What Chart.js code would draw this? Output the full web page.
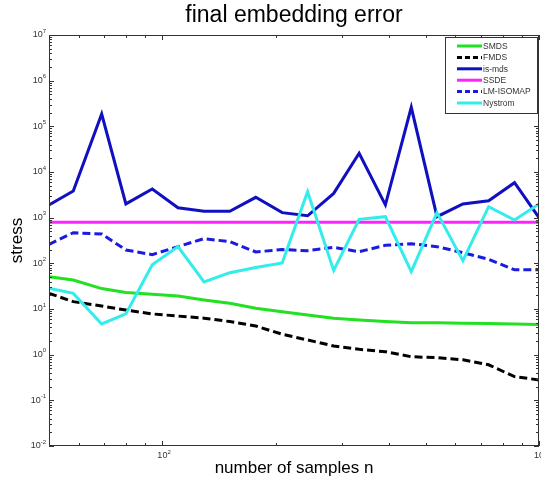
<!DOCTYPE html>
<html><head><meta charset="utf-8">
<script src="https://cdn.jsdelivr.net/npm/chart.js@4.4.0/dist/chart.umd.min.js"></script>
<style>html,body{margin:0;padding:0;background:#fff;}canvas{display:block;}</style>
</head><body>
<canvas id="c" width="541" height="483"></canvas>
<script>
const sampleSizes = [50, 58, 69, 80, 94, 110, 129, 151, 177, 208, 243, 285, 333, 391, 458, 536, 628, 735, 861, 1000];
const smds     = [51, 43, 28, 23, 21, 19.3, 15.8, 13.3, 10.4, 8.7, 7.4, 6.3, 5.75, 5.3, 5.0, 5.0, 4.9, 4.8, 4.7, 4.6];
const fmds     = [22, 14.5, 11.6, 9.5, 7.8, 7.0, 6.3, 5.3, 4.25, 2.8, 2.1, 1.55, 1.31, 1.16, 0.9, 0.86, 0.77, 0.6, 0.33, 0.28];
const isMds    = [1900, 3840, 186000, 2000, 4250, 1650, 1380, 1380, 2790, 1290, 1100, 3400, 25700, 1900, 261000, 1050, 2000, 2350, 5830, 1000];
const ssde     = [790, 790, 790, 790, 790, 790, 790, 790, 790, 790, 790, 790, 790, 790, 790, 790, 790, 790, 790, 790];
const lmIsomap = [261, 467, 440, 196, 155, 232, 347, 298, 178, 200, 189, 223, 180, 248, 269, 232, 171, 123, 72, 72];
const nystrom  = [28.4, 22, 4.7, 7.8, 93, 232, 39, 62.5, 81, 102, 3700, 70, 920, 1050, 66, 1290, 114, 1740, 890, 2000];
const seriesNames = ['SMDS', 'FMDS', 'is-mds', 'SSDE', 'LM-ISOMAP', 'Nystrom'];
const xRange = [50, 1000];
const yRange = [0.01, 1e7];
const titleText = 'final embedding error';
const xTitle = 'number of samples n';
const yTitle = 'stress';

const FONT = '"Liberation Sans", Arial, Helvetica, sans-serif';

function pts(ys){ return sampleSizes.map((x,i)=>({x:x, y:ys[i]})); }

const styles = [
  {color:'#22e022', dash:[]},
  {color:'#000000', dash:[8,4]},
  {color:'#1010c0', dash:[]},
  {color:'#ff22ff', dash:[]},
  {color:'#1a1ae0', dash:[8,4]},
  {color:'#33ecec', dash:[]}
];
const seriesData = [smds, fmds, isMds, ssde, lmIsomap, nystrom];

const datasets = seriesNames.map((name,i)=>({
  label: name,
  data: pts(seriesData[i]),
  borderColor: styles[i].color,
  backgroundColor: styles[i].color,
  borderDash: styles[i].dash,
  borderWidth: 3,
  pointRadius: 0,
  tension: 0,
  fill: false,
  order: 6 - i
}));

function decadeTicks(min, max){
  const out = [];
  const e0 = Math.floor(Math.log10(min)), e1 = Math.ceil(Math.log10(max));
  for (let e = e0; e <= e1; e++){
    for (let m = 1; m <= 9; m++){
      const v = m * Math.pow(10, e);
      if (v >= min*0.9999 && v <= max*1.0001) out.push({v:v, major: m === 1, e:e});
    }
  }
  return out;
}

const decor = {
  id: 'decor',
  beforeDraw(chart){
    const ctx = chart.ctx;
    ctx.save(); ctx.fillStyle = '#fff'; ctx.fillRect(0,0,chart.width,chart.height); ctx.restore();
  },
  afterDatasetsDraw(chart){
    const ctx = chart.ctx, a = chart.chartArea;
    const xs = chart.scales.x, ys = chart.scales.y;
    ctx.save();
    // box
    ctx.strokeStyle = '#333'; ctx.lineWidth = 1; ctx.setLineDash([]);
    ctx.strokeRect(Math.round(a.left)+0.5, Math.round(a.top)+0.5, Math.round(a.right-a.left)-1, Math.round(a.bottom-a.top)-1);
    // ticks
    ctx.beginPath();
    decadeTicks(xs.min, xs.max).forEach(t=>{
      const px = Math.round(xs.getPixelForValue(t.v))+0.5;
      const L = t.major ? 5 : 3;
      ctx.moveTo(px, a.bottom); ctx.lineTo(px, a.bottom - L);
      ctx.moveTo(px, a.top); ctx.lineTo(px, a.top + L);
    });
    decadeTicks(ys.min, ys.max).forEach(t=>{
      const py = Math.round(ys.getPixelForValue(t.v))+0.5;
      const L = t.major ? 5 : 3;
      ctx.moveTo(a.left, py); ctx.lineTo(a.left + L, py);
      ctx.moveTo(a.right, py); ctx.lineTo(a.right - L, py);
    });
    ctx.stroke();
    // tick labels
    ctx.fillStyle = '#333';
    decadeTicks(ys.min, ys.max).filter(t=>t.major).forEach(t=>{
      const py = ys.getPixelForValue(t.v);
      ctx.font = '6px ' + FONT;
      const ex = String(t.e);
      const ew = ctx.measureText(ex).width;
      ctx.textAlign = 'right'; ctx.textBaseline = 'middle';
      ctx.fillText(ex, a.left - 3, py - 4);
      ctx.font = '9px ' + FONT;
      ctx.fillText('10', a.left - 3 - ew, py);
    });
    decadeTicks(xs.min, xs.max).filter(t=>t.major).forEach(t=>{
      const px = xs.getPixelForValue(t.v);
      ctx.font = '9px ' + FONT;
      ctx.textAlign = 'center'; ctx.textBaseline = 'middle';
      const w = ctx.measureText('10').width;
      ctx.fillText('10', px, a.bottom + 10);
      ctx.font = '6px ' + FONT; ctx.textAlign = 'left';
      ctx.fillText(String(t.e), px + w/2, a.bottom + 6);
    });
    // legend
    const lx = 445, ly = 37, lw = 92, lh = 76;
    ctx.fillStyle = '#fff'; ctx.fillRect(lx, ly, lw, lh);
    ctx.strokeStyle = '#333'; ctx.lineWidth = 1;
    ctx.strokeRect(lx+0.5, ly+0.5, lw, lh);
    chart.data.datasets.forEach((ds,i)=>{
      const yy = ly + 9 + i*11.4;
      ctx.strokeStyle = ds.borderColor; ctx.lineWidth = 3;
      ctx.setLineDash(ds.borderDash.length ? [5,3] : []);
      ctx.beginPath(); ctx.moveTo(457, yy); ctx.lineTo(482, yy); ctx.stroke();
      ctx.setLineDash([]);
      ctx.fillStyle = '#333'; ctx.font = '8.5px ' + FONT;
      ctx.textAlign = 'left'; ctx.textBaseline = 'middle';
      ctx.fillText(ds.label, 483, yy + 0.5);
    });
    // title
    ctx.fillStyle = '#000'; ctx.font = '23px ' + FONT;
    ctx.textAlign = 'center'; ctx.textBaseline = 'alphabetic';
    ctx.fillText(titleText, (a.left + a.right)/2, 22);
    ctx.restore();
  }
};

new Chart(document.getElementById('c'), {
  type: 'line',
  data: { datasets: datasets },
  options: {
    responsive: false,
    devicePixelRatio: 1,
    animation: false,
    layout: { padding: { top: 35, right: 2, left: 0, bottom: 0 } },
    plugins: { legend: { display: false }, tooltip: { enabled: false }, title: { display: false } },
    scales: {
      x: {
        type: 'logarithmic', min: xRange[0], max: xRange[1],
        grid: { display: false }, border: { display: false },
        ticks: { display: false },
        title: { display: true, text: xTitle, color: '#000', font: { size: 17, family: FONT }, padding: { top: 0, bottom: 4 } },
        afterFit(s){ s.height = 37; }
      },
      y: {
        type: 'logarithmic', min: yRange[0], max: yRange[1],
        grid: { display: false }, border: { display: false },
        ticks: { display: false },
        title: { display: true, text: yTitle, color: '#000', font: { size: 17, family: FONT }, padding: { top: 7, bottom: 0 } },
        afterFit(s){ s.width = 49; }
      }
    }
  },
  plugins: [decor]
});
</script>
</body></html>
